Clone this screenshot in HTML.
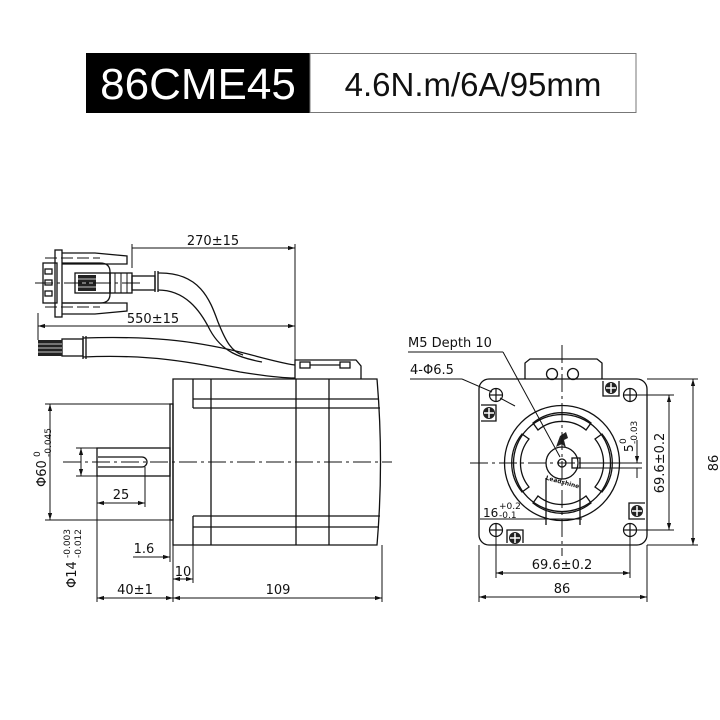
<!DOCTYPE html>
<html><head><meta charset="utf-8"><style>
html,body{margin:0;padding:0;background:#fff;width:720px;height:720px;overflow:hidden}
svg{display:block}
text{font-family:"DejaVu Sans","Liberation Sans",sans-serif;fill:#111}
</style></head><body>
<svg width="720" height="720" viewBox="0 0 720 720" xmlns="http://www.w3.org/2000/svg">
<defs>
<marker id="a" viewBox="0 0 10 10" refX="10" refY="5" markerWidth="7" markerHeight="7" orient="auto-start-reverse" markerUnits="userSpaceOnUse"><path d="M0,2 L10,5 L0,8 z" fill="#111"/></marker>
</defs>
<!-- header -->
<rect x="86" y="53" width="224" height="60" fill="#000"/>
<rect x="310" y="53.5" width="326" height="59" fill="#fff" stroke="#777" stroke-width="1"/>
<text x="198" y="99" text-anchor="middle" font-size="44" style="font-family:'Liberation Sans',sans-serif;fill:#fff">86CME45</text>
<text x="473" y="96" text-anchor="middle" font-size="33" style="font-family:'Liberation Sans',sans-serif">4.6N.m/6A/95mm</text>

<g fill="none" stroke="#111" stroke-width="1.3">
<path d="M173,379 H377 Q384,462 377,545 H173 Z"/>
<line x1="193" y1="379" x2="193" y2="408"/>
<line x1="193" y1="399" x2="379" y2="399"/>
<line x1="193" y1="408" x2="380" y2="408"/>
<line x1="193" y1="516" x2="380" y2="516"/>
<line x1="193" y1="527" x2="379" y2="527"/>
<line x1="193" y1="516" x2="193" y2="545"/>
<line x1="211" y1="379" x2="211" y2="545"/>
<line x1="296" y1="379" x2="296" y2="545"/>
<line x1="329" y1="379" x2="329" y2="545"/>
<rect x="170" y="404" width="3" height="116"/>
<rect x="97" y="448" width="73" height="28"/>
<path d="M98,457 H142 A5,5 0 0 1 142,467 H98"/>
<path d="M295,379 V360 H356 L361,366 V379"/>
<rect x="300" y="362" width="10" height="6"/><rect x="340" y="362" width="10" height="6"/>
<line x1="310" y1="365" x2="340" y2="365"/>
<path d="M83,338 C150,336 190,340 240,352 C260,357 280,363 295,365"/>
<path d="M83,357 C150,354 190,362 240,372 C265,376 285,378 295,378"/>
<path d="M158,273 C200,272 210,300 218,322 C226,342 232,352 243,355"/>
<path d="M158,290 C185,290 200,310 210,330 C222,352 240,358 262,362"/>
<line x1="83" y1="336" x2="83" y2="359"/><line x1="86" y1="336" x2="86" y2="359"/>
<line x1="155" y1="271" x2="155" y2="292"/><line x1="158" y1="271" x2="158" y2="292"/>
<rect x="62" y="339" width="21" height="17"/>
<rect x="43" y="263" width="14" height="40"/>
<rect x="45" y="269" width="7" height="5"/><rect x="45" y="280" width="7" height="5"/><rect x="45" y="291" width="7" height="5"/>
<rect x="55" y="250" width="7" height="67"/>
<path d="M62,253 H95 L127,256 V264 H62"/>
<path d="M62,303 H127 V311 L95,314 H62"/>
<path d="M62,263 H100 Q110,263 110,272 V294 Q110,303 100,303 H62"/>
<rect x="75" y="273" width="35" height="20"/>
<rect x="110" y="273" width="22" height="20"/>
<rect x="132" y="276" width="23" height="14"/>
</g>
<g fill="#222"><rect x="78" y="275" width="18" height="16"/><rect x="38" y="340" width="24" height="16"/></g>
<g stroke="#fff" stroke-width="0.8"><line x1="78" y1="279" x2="96" y2="279"/><line x1="78" y1="283" x2="96" y2="283"/><line x1="78" y1="287" x2="96" y2="287"/><line x1="38" y1="344" x2="62" y2="344"/><line x1="38" y1="348" x2="62" y2="348"/><line x1="38" y1="352" x2="62" y2="352"/></g>
<g stroke="#111" stroke-width="1" fill="none">
<line x1="115" y1="273" x2="115" y2="293"/><line x1="121" y1="273" x2="121" y2="293"/><line x1="127" y1="273" x2="127" y2="293"/>
<line x1="63" y1="462" x2="392" y2="462" stroke-dasharray="18,4,3,4"/>
<line x1="35" y1="283" x2="140" y2="283" stroke-dasharray="18,4,3,4"/>
<line x1="45" y1="258" x2="100" y2="258" stroke-dasharray="12,4"/>
<line x1="45" y1="307" x2="100" y2="307" stroke-dasharray="12,4"/>
<line x1="132" y1="248" x2="295" y2="248" marker-end="url(#a)"/>
<line x1="132" y1="244" x2="132" y2="268"/>
<line x1="295" y1="244" x2="295" y2="360"/>
<line x1="38" y1="326" x2="295" y2="326" marker-start="url(#a)" marker-end="url(#a)"/>
<line x1="38" y1="313" x2="38" y2="340"/>
<line x1="45" y1="404" x2="170" y2="404"/><line x1="45" y1="520" x2="170" y2="520"/>
<line x1="50" y1="404" x2="50" y2="520" marker-start="url(#a)" marker-end="url(#a)"/>
<line x1="76" y1="448" x2="97" y2="448"/><line x1="76" y1="476" x2="97" y2="476"/>
<line x1="81" y1="448" x2="81" y2="476" marker-start="url(#a)" marker-end="url(#a)"/>
<line x1="145" y1="467" x2="145" y2="507"/>
<line x1="97" y1="503" x2="145" y2="503" marker-start="url(#a)" marker-end="url(#a)"/>
<line x1="133" y1="557" x2="170" y2="557" marker-end="url(#a)"/>
<line x1="170" y1="520" x2="170" y2="562"/>
<line x1="173" y1="545" x2="173" y2="602"/>
<line x1="193" y1="527" x2="193" y2="583"/>
<line x1="173" y1="579" x2="193" y2="579" marker-start="url(#a)" marker-end="url(#a)"/>
<line x1="97" y1="476" x2="97" y2="602"/>
<line x1="382" y1="545" x2="382" y2="602"/>
<line x1="97" y1="598" x2="173" y2="598" marker-start="url(#a)" marker-end="url(#a)"/>
<line x1="173" y1="598" x2="382" y2="598" marker-start="url(#a)" marker-end="url(#a)"/>
</g>
<g font-size="13">
<text x="213" y="245" text-anchor="middle">270±15</text>
<text x="153" y="323" text-anchor="middle">550±15</text>
<text x="121" y="499" text-anchor="middle">25</text>
<text x="144" y="553" text-anchor="middle">1.6</text>
<text x="183" y="576" text-anchor="middle">10</text>
<text x="135" y="594" text-anchor="middle">40±1</text>
<text x="278" y="594" text-anchor="middle">109</text>
<g transform="translate(46,487) rotate(-90)"><text x="0" y="0" font-size="13">Φ60</text><text x="30" y="5" font-size="9">-0.045</text><text x="30" y="-6" font-size="9">0</text></g>
<g transform="translate(76,588) rotate(-90)"><text x="0" y="0" font-size="13">Φ14</text><text x="30" y="5" font-size="9">-0.012</text><text x="30" y="-6" font-size="9">-0.003</text></g>
</g>

<!-- front view -->
<g fill="none" stroke="#111" stroke-width="1.3">
<rect x="479" y="379" width="168" height="166" rx="10"/>
<path d="M525,379 V363 L530,359 H597 L602,363 V379"/>
<circle cx="552" cy="374" r="5.5"/><circle cx="573" cy="374" r="5.5"/>
<circle cx="562" cy="463" r="57.5"/>
<circle cx="562" cy="463" r="48.5"/>
<circle cx="562" cy="463" r="16"/>
<circle cx="562" cy="463" r="4"/>
<rect x="572" y="458" width="8" height="10"/>
<g id="sl">
<path d="M538,430 A38,38 0 0 1 586,430 L591,423 A46,46 0 0 0 533,423 Z"/>
</g>
<use href="#sl" transform="rotate(90 562 463)"/>
<use href="#sl" transform="rotate(180 562 463)"/>
<use href="#sl" transform="rotate(270 562 463)"/>
<line x1="546" y1="478" x2="546" y2="525"/><line x1="580" y1="478" x2="580" y2="525"/>
</g>
<path d="M556,447 L560,436 L566,432 L568,438 L564,440 L566,448 L562,444 Z" fill="#222"/>
<g fill="none" stroke="#111" stroke-width="1.2">
<g id="bh"><circle cx="496" cy="395" r="6.5"/><line x1="489" y1="395" x2="503" y2="395"/><line x1="496" y1="388" x2="496" y2="402"/></g>
<use href="#bh" transform="translate(134,0)"/>
<use href="#bh" transform="translate(0,135)"/>
<use href="#bh" transform="translate(134,135)"/>
</g>
<g stroke="#111" stroke-width="1.3" fill="none">
<path d="M481,405 H496 V421 H481"/><path d="M603,381 V396 H619 V381"/><path d="M645,503 H629 V519 H645"/><path d="M507,543 V530 H523 V543"/>
</g>
<g>
<g id="sc"><circle cx="489" cy="413" r="6" fill="#222"/><path d="M484,413 H494 M489,408 V418" stroke="#fff" stroke-width="1.5"/></g>
<use href="#sc" transform="translate(122,-25)"/>
<use href="#sc" transform="translate(148,98)"/>
<use href="#sc" transform="translate(26,125)"/>
</g>
<g stroke="#111" stroke-width="1" fill="none">
<line x1="562" y1="345" x2="562" y2="556" stroke-dasharray="18,4,3,4"/>
<line x1="470" y1="463" x2="600" y2="463" stroke-dasharray="18,4,3,4"/>
<line x1="580" y1="463" x2="642" y2="463"/>
<line x1="580" y1="468" x2="642" y2="468"/>
<line x1="637" y1="440" x2="637" y2="463" marker-end="url(#a)"/>
<line x1="637" y1="468" x2="637" y2="478"/>
<line x1="630" y1="395" x2="674" y2="395"/><line x1="630" y1="530" x2="674" y2="530"/>
<line x1="669" y1="395" x2="669" y2="530" marker-start="url(#a)" marker-end="url(#a)"/>
<line x1="647" y1="379" x2="698" y2="379"/><line x1="647" y1="545" x2="698" y2="545"/>
<line x1="693" y1="379" x2="693" y2="545" marker-start="url(#a)" marker-end="url(#a)"/>
<line x1="496" y1="530" x2="496" y2="578"/><line x1="630" y1="530" x2="630" y2="578"/>
<line x1="496" y1="573" x2="630" y2="573" marker-start="url(#a)" marker-end="url(#a)"/>
<line x1="479" y1="545" x2="479" y2="602"/><line x1="647" y1="545" x2="647" y2="602"/>
<line x1="479" y1="597" x2="647" y2="597" marker-start="url(#a)" marker-end="url(#a)"/>
<line x1="480" y1="519" x2="582" y2="519"/>
<line x1="408" y1="352" x2="503" y2="352"/><line x1="503" y1="352" x2="560" y2="457"/>
<line x1="410" y1="379" x2="462" y2="379"/><line x1="462" y1="379" x2="492" y2="392"/>
<line x1="500" y1="398" x2="515" y2="406"/>
</g>
<g font-size="13">
<text x="408" y="347">M5 Depth 10</text>
<text x="410" y="374">4-Φ6.5</text>
<text x="483" y="517" font-size="12">16</text><text x="499" y="509" font-size="9">+0.2</text><text x="499" y="518" font-size="9">-0.1</text>
<text x="562" y="569" text-anchor="middle">69.6±0.2</text>
<text x="562" y="593" text-anchor="middle">86</text>
<text transform="translate(664,463) rotate(-90)" text-anchor="middle">69.6±0.2</text>
<text transform="translate(718,463) rotate(-90)" text-anchor="middle">86</text>
<g transform="translate(633,452) rotate(-90)"><text x="0" y="0" font-size="12">5</text><text x="8" y="4" font-size="9">-0.03</text><text x="8" y="-7" font-size="9">0</text></g>
<text x="562" y="484" font-size="6" text-anchor="middle" transform="rotate(15 562 484)" font-weight="bold">Leadshine</text>
</g>
</svg>
</body></html>
